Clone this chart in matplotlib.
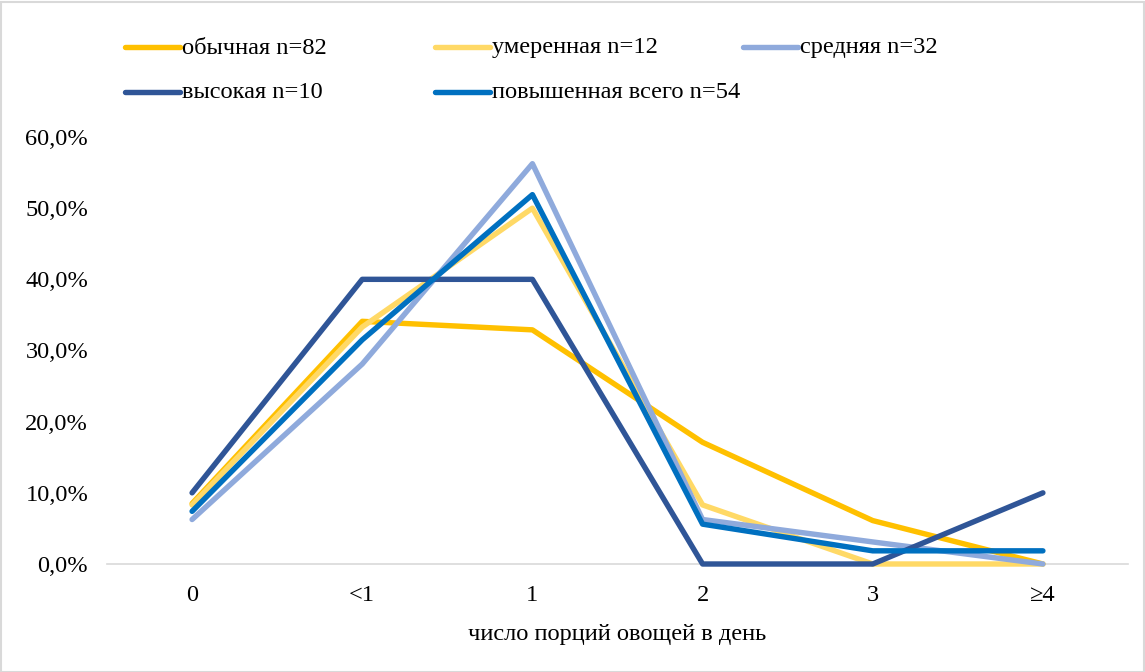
import matplotlib
matplotlib.use("Agg")
import matplotlib.pyplot as plt
from matplotlib.lines import Line2D
from matplotlib.patches import Rectangle
from matplotlib.ticker import FuncFormatter

plt.rcParams['font.family'] = ['Liberation Serif', 'DejaVu Serif']

categories = ["0", "<1", "1", "2", "3", "≥4"]
series_names = ["обычная n=82", "умеренная n=12", "средняя n=32",
                "высокая n=10", "повышенная всего n=54"]
obychnaya = [8.5, 34.1, 32.9, 17.1, 6.1, 0.0]
umerennaya = [8.3, 33.3, 50.0, 8.3, 0.0, 0.0]
srednyaya = [6.25, 28.1, 56.25, 6.25, 3.1, 0.0]
vysokaya = [10.0, 40.0, 40.0, 0.0, 0.0, 10.0]
povyshennaya = [7.4, 31.5, 51.9, 5.6, 1.85, 1.85]
series_values = [obychnaya, umerennaya, srednyaya, vysokaya, povyshennaya]
colors = ["#FFC000", "#FFD966", "#8FAADC", "#2F5597", "#0070C0"]
x_label = "число порций овощей в день"

FS = 17.6
W, H = 1145, 672
fig = plt.figure(figsize=(W / 100, H / 100), dpi=100)
fig.patches.append(Rectangle((0.5 / W, 0.5 / H), 1 - 2 / W, 1 - 2 / H,
                             transform=fig.transFigure, fill=False,
                             edgecolor="#D9D9D9", linewidth=1.5))

ax = fig.add_axes([107 / W, 1 - 564 / H, (1128 - 107) / W, (564 - 137) / H])
x = list(range(len(categories)))
for vals, c in zip(series_values, colors):
    ax.plot(x, [v / 100 for v in vals], color=c, linewidth=3.9,
            solid_capstyle="round", solid_joinstyle="round", clip_on=False,
            zorder=3)

ax.set_xlim(-0.5, len(categories) - 0.5)
ax.set_ylim(0, 0.6)
ax.set_yticks([i / 10 for i in range(7)])
ax.yaxis.set_major_formatter(FuncFormatter(lambda v, p: f"{v*100:.1f}%".replace(".", ",")))
ax.set_xticks(x)
ax.set_xticklabels(categories)
for s in ["top", "right", "left"]:
    ax.spines[s].set_visible(False)
ax.spines["bottom"].set_color("#D9D9D9")
ax.spines["bottom"].set_linewidth(1.2)
ax.spines["bottom"].set_zorder(1)
ax.tick_params(axis="both", length=0, labelsize=FS, colors="black")
ax.tick_params(axis="y", pad=13.5)
ax.tick_params(axis="x", pad=15)
ax.set_xlabel(x_label, fontsize=FS, labelpad=13)

# legend (Excel-style fixed columns)
leg_pos = [(125, 47), (435, 47), (743, 47), (125, 92), (435, 92)]
for (lx, ly), name, c in zip(leg_pos, series_names, colors):
    fig.add_artist(Line2D([lx / W, (lx + 55) / W], [1 - ly / H, 1 - ly / H],
                          transform=fig.transFigure, color=c, linewidth=3.9,
                          solid_capstyle="round"))
    fig.text((lx + 57) / W, 1 - (ly + 1) / H, name, fontsize=FS, va="center", ha="left")

fig.savefig("out.png", dpi=100)
